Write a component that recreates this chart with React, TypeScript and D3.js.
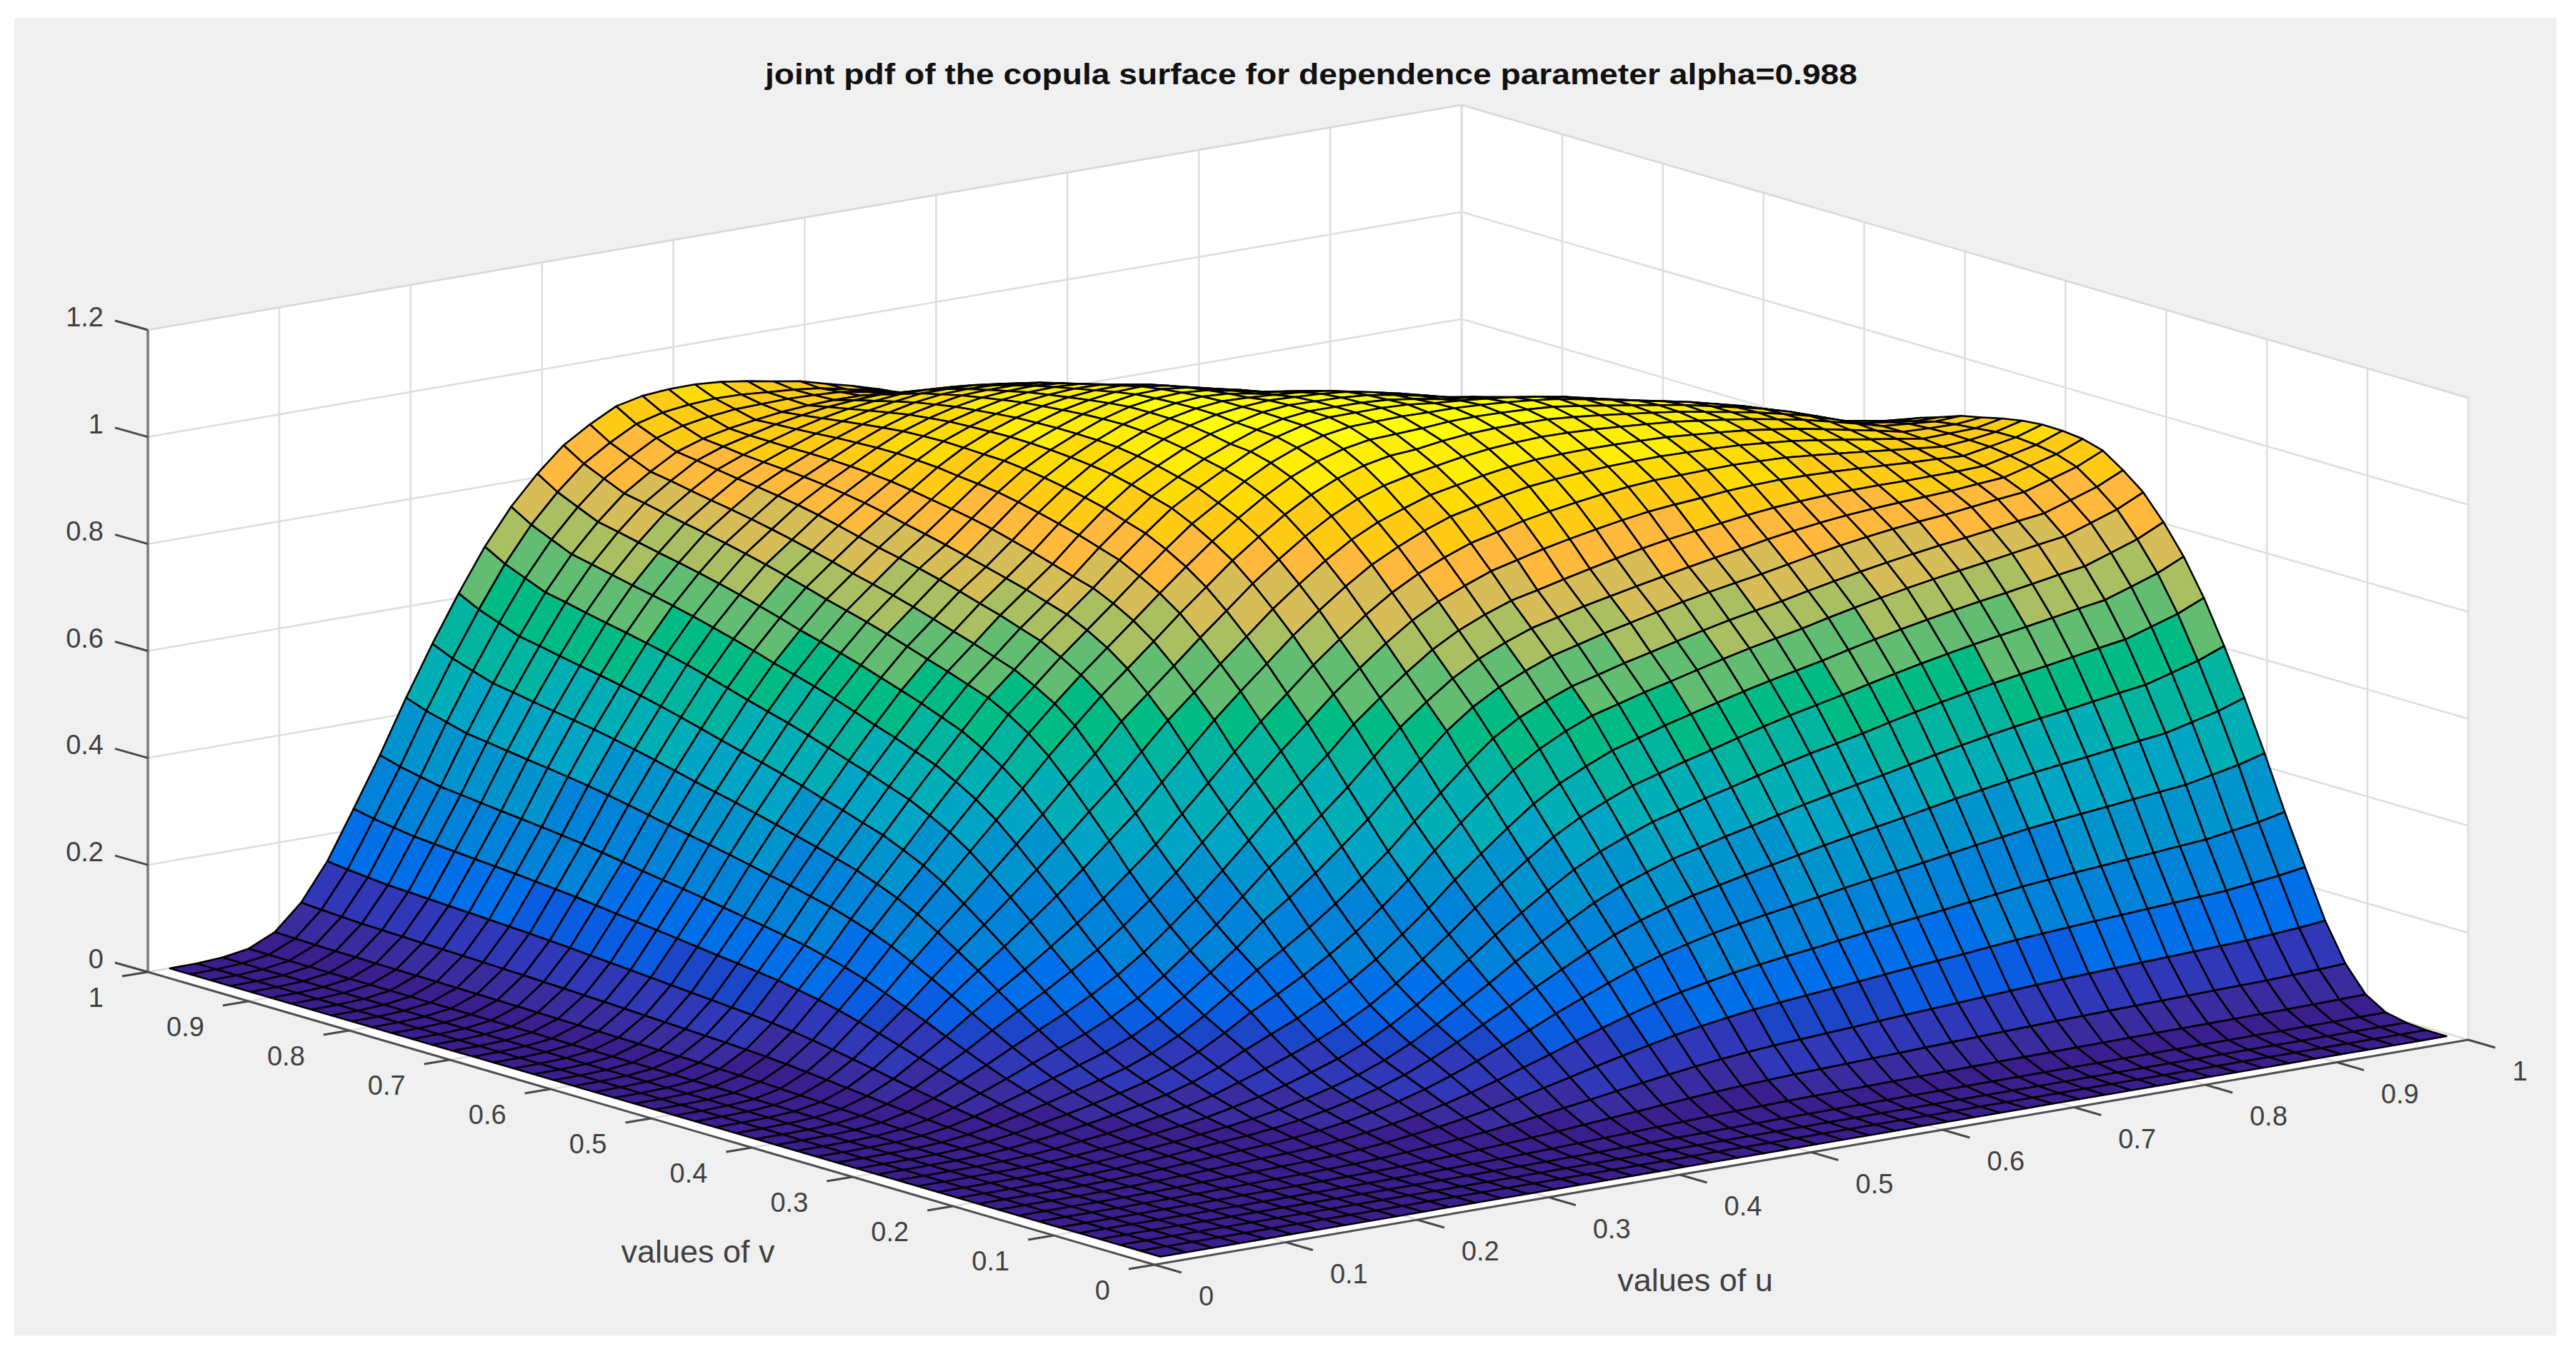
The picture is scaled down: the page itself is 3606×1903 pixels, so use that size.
import React from 'react'
import * as d3 from 'd3'

const title = 'joint pdf of the copula surface for dependence parameter alpha=0.988'
const alpha = 0.988

const uvTicks = [0, 0.1, 0.2, 0.3, 0.4, 0.5, 0.6, 0.7, 0.8, 0.9, 1]
const uvTickLabels = ['0', '0.1', '0.2', '0.3', '0.4', '0.5', '0.6', '0.7', '0.8', '0.9', '1']
const zTicks = [0, 0.2, 0.4, 0.6, 0.8, 1, 1.2]
const zTickLabels = ['0', '0.2', '0.4', '0.6', '0.8', '1', '1.2']

// Nobody can read 2500 heights by eye, so the mesh is stored as two profiles with one value per
// grid line (0.01, 0.03 ... 0.99). Both were fitted by hand to the heights
// along the v=0.99 edge and along the u=v diagonal, and the surface is rebuilt from them below.
const marginalDensity = [
  0.0003, 0.0007, 0.0027, 0.0081, 0.0233, 0.055, 0.102, 0.163, 0.226, 0.294,
  0.358, 0.418, 0.477, 0.532, 0.5835, 0.633, 0.676, 0.72, 0.759, 0.797,
  0.835, 0.87, 0.9045, 0.934, 0.961, 0.983, 0.9995, 1.0104, 1.015, 1.0136,
  1.012, 1.008, 1.0, 0.99, 0.979, 0.967, 0.9535, 0.9385, 0.9235, 0.9085,
  0.8935, 0.8785, 0.8635, 0.8485, 0.832, 0.8155, 0.799, 0.7875, 0.776, 0.768,
]
const marginalRank = [
  0.002, 0.005, 0.01, 0.015, 0.02, 0.0247, 0.029, 0.032, 0.034, 0.036,
  0.0384, 0.0414, 0.0512, 0.0676, 0.09, 0.115, 0.142, 0.1715, 0.205, 0.24,
  0.2746, 0.307, 0.339, 0.3666, 0.392, 0.416, 0.435, 0.451, 0.468, 0.4825,
  0.4975, 0.5125, 0.531, 0.551, 0.571, 0.591, 0.6125, 0.6375, 0.6625, 0.6875,
  0.7125, 0.7375, 0.7625, 0.7875, 0.816, 0.846, 0.876, 0.913, 0.9515, 0.995,
]
// how far the low part of the surface drops just off the diagonal, by grid lines from it
const offDiagonalDrop = [
  0, 0.03, 0.07, 0.11, 0.15, 0.18, 0.19, 0.19, 0.18, 0.17,
  0.16, 0.15, 0.14, 0.13, 0.12, 0.11, 0.1, 0.09, 0.08, 0.07,
  0.06, 0.05, 0.045, 0.04, 0.035, 0.03, 0.025, 0.02, 0.015, 0.01,
  0.005, 0, 0, 0, 0, 0, 0, 0, 0, 0,
  0, 0, 0, 0, 0, 0, 0, 0, 0, 0,
]
// and how far the top plateau stays up there, so the far outline runs straight
const plateauLift = [
  0, 0, 0, 0, 0, 0.004, 0.008, 0.012, 0.016, 0.02,
  0.022, 0.024, 0.026, 0.028, 0.03, 0.03, 0.03, 0.03, 0.028, 0.026,
  0.022, 0.018, 0.014, 0.01, 0.006, 0.003, 0, 0, 0, 0,
  0, 0, 0, 0, 0, 0, 0, 0, 0, 0,
  0, 0, 0, 0, 0, 0, 0, 0, 0, 0,
]

const bandLimits = [
  0.035, 0.07, 0.12, 0.14, 0.165, 0.225, 0.33, 0.405, 0.45, 0.51,
  0.56, 0.63, 0.7, 0.76, 0.815, 0.87, 0.915, 0.96, 1.0,
]
const bandColors = [
  '#3b1e8e', '#3a2c9e', '#3038b8', '#1c46c8', '#0a5ce0', '#006fe8', '#0082d8', '#0094cf', '#00a4c4', '#00aeb5',
  '#00b4a0', '#00bc84', '#62bd72', '#a9bf62', '#d6bd58', '#ffb93c', '#ffcb14', '#ffdc00', '#ffee00', '#ffff00',
]

const fontFamily = '"Liberation Sans", Arial, sans-serif'

const App = () => {
  const chartRef = React.useRef<SVGSVGElement | null>(null)

  React.useEffect(() => {
    const svg = d3.select(chartRef.current)
    svg.selectAll('*').remove()

    // axes of the orthographic view, all measured in picture pixels
    const uX = d3.scaleLinear().domain([0, 1]).range([0, 1839])
    const uY = d3.scaleLinear().domain([0, 1]).range([0, -315])
    const vX = d3.scaleLinear().domain([0, 1]).range([0, -1409])
    const vY = d3.scaleLinear().domain([0, 1]).range([0, -410])
    const zY = d3.scaleLinear().domain([0, 1.2]).range([0, -899])
    const project = (u: number, v: number, z: number): [number, number] => [
      1616 + uX(u) + vX(v),
      1771 + uY(u) + vY(v) + zY(z),
    ]
    const polygon = (pts: [number, number][]) => d3.line()(pts) + 'Z'

    svg.append('rect').attr('x', 20).attr('y', 25).attr('width', 3559).attr('height', 1845).attr('fill', '#f0f0f0')

    // floor and back walls
    const walls: [number, number, number][][] = [
      [[0, 0, 0], [1, 0, 0], [1, 1, 0], [0, 1, 0]],
      [[0, 1, 0], [1, 1, 0], [1, 1, 1.2], [0, 1, 1.2]],
      [[1, 0, 0], [1, 1, 0], [1, 1, 1.2], [1, 0, 1.2]],
    ]
    walls.forEach((w) => {
      svg.append('path').attr('d', polygon(w.map((p) => project(p[0], p[1], p[2])))).attr('fill', '#ffffff')
    })

    const gridLine = (a: [number, number], b: [number, number], color = '#dedede') =>
      svg.append('line')
        .attr('x1', a[0]).attr('y1', a[1]).attr('x2', b[0]).attr('y2', b[1])
        .attr('stroke', color).attr('stroke-width', 2.6)

    uvTicks.forEach((t) => {
      gridLine(project(t, 1, 0), project(t, 1, 1.2), t === 1 ? '#c6c6c6' : '#dedede')
      gridLine(project(1, t, 0), project(1, t, 1.2))
      gridLine(project(t, 0, 0), project(t, 1, 0))
      gridLine(project(0, t, 0), project(1, t, 0))
    })
    zTicks.forEach((z) => {
      gridLine(project(0, 1, z), project(1, 1, z), z === 1.2 ? '#d8d8d8' : '#dedede')
      gridLine(project(1, 1, z), project(1, 0, z), z === 1.2 ? '#d8d8d8' : '#dedede')
    })

    // axis lines and ticks
    const axisLine = (a: [number, number], b: [number, number], color: string, width: number) =>
      svg.append('line')
        .attr('x1', a[0]).attr('y1', a[1]).attr('x2', b[0]).attr('y2', b[1])
        .attr('stroke', color).attr('stroke-width', width)

    axisLine(project(0, 1, 0), project(0, 1, 1.2), '#7c7c7c', 3.6)
    axisLine(project(0, 1, 0), project(0, 0, 0), '#505050', 3)
    axisLine(project(0, 0, 0), project(1, 0, 0), '#505050', 3)

    uvTicks.forEach((t, i) => {
      const onU = project(t, 0, 0)
      axisLine(onU, [onU[0] + 38, onU[1] + 11], '#484848', 3)
      svg.append('text')
        .attr('x', onU[0] + 62).attr('y', onU[1] + 44)
        .attr('dominant-baseline', 'central')
        .attr('font-family', fontFamily).attr('font-size', 38).attr('fill', '#404040')
        .text(uvTickLabels[i])

      const onV = project(0, t, 0)
      axisLine(onV, [onV[0] - 36, onV[1] + 6], '#484848', 3)
      svg.append('text')
        .attr('x', onV[0] - 62).attr('y', onV[1] + 36)
        .attr('dominant-baseline', 'central').attr('text-anchor', 'end')
        .attr('font-family', fontFamily).attr('font-size', 38).attr('fill', '#404040')
        .text(uvTickLabels[i])
    })

    zTicks.forEach((z, i) => {
      const p = project(0, 1, z)
      axisLine(p, [p[0] - 46, p[1] - 13], '#484848', 3)
      svg.append('text')
        .attr('x', 145).attr('y', p[1] - 18)
        .attr('dominant-baseline', 'central').attr('text-anchor', 'end')
        .attr('font-family', fontFamily).attr('font-size', 38).attr('fill', '#404040')
        .text(zTickLabels[i])
    })

    // surface
    const meshU = d3.scaleLinear().domain([0, 49]).range([0.016, 0.995])
    const meshV = d3.scaleLinear().domain([0, 49]).range([0.015, 0.999])
    const height = (i: number, j: number) => {
      const d = Math.abs(i - j)
      const z = marginalDensity[i] * marginalDensity[j] *
        (1 - alpha * (1 - 2 * marginalRank[i]) * (1 - 2 * marginalRank[j]))
      const lift = plateauLift[d] * Math.max(0, Math.min(1, (z - 0.8) / 0.1))
      return z * (1 - offDiagonalDrop[d] * Math.max(0, 1 - z / 0.6) + lift)
    }
    const band = d3.scaleThreshold<number, string>().domain(bandLimits).range(bandColors)

    // far cells first so the near ones paint over them
    const cells = svg.append('g').attr('stroke', '#000').attr('stroke-width', 2.6).attr('stroke-linejoin', 'round')
    for (let i = 48; i >= 0; i--) {
      for (let j = 48; j >= 0; j--) {
        const corners: [number, number][] = [[i, j], [i + 1, j], [i + 1, j + 1], [i, j + 1]]
        const mean = d3.mean(corners, (c) => height(c[0], c[1])) || 0
        cells.append('path')
          .attr('d', polygon(corners.map((c) => project(meshU(c[0]), meshV(c[1]), height(c[0], c[1])))))
          .attr('fill', band(mean))
      }
    }

    // texts
    svg.append('text')
      .attr('x', 1071).attr('y', 118)
      .attr('font-family', fontFamily).attr('font-size', 40).attr('font-weight', 'bold').attr('fill', '#111')
      .attr('textLength', 1529).attr('lengthAdjust', 'spacingAndGlyphs')
      .text(title)

    svg.append('text')
      .attr('x', 977).attr('y', 1752)
      .attr('text-anchor', 'middle').attr('dominant-baseline', 'central')
      .attr('font-family', fontFamily).attr('font-size', 45).attr('fill', '#404040')
      .text('values of v')

    svg.append('text')
      .attr('x', 2373).attr('y', 1792)
      .attr('text-anchor', 'middle').attr('dominant-baseline', 'central')
      .attr('font-family', fontFamily).attr('font-size', 45).attr('fill', '#404040')
      .text('values of u')
  }, [])

  return (
    <svg
      ref={chartRef}
      width={3606}
      height={1903}
      style={{ position: 'absolute', left: 0, top: 0, background: '#fff' }}
    ></svg>
  )
}

export default App
